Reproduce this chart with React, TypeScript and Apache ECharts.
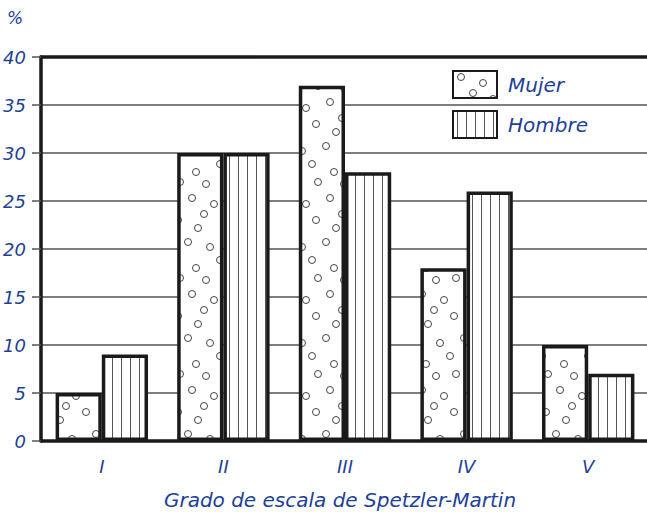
import React, { useEffect, useRef } from "react";
import * as echarts from "echarts";

const categories = ["I", "II", "III", "IV", "V"];
const mujer = [5, 30, 37, 18, 10];
const hombre = [9, 30, 28, 26, 7];
const seriesNames = ["Mujer", "Hombre"];
const axisTitle = "Grado de escala de Spetzler-Martin";

const BLUE = "#223f98";
const FONT = "'DejaVu Sans', sans-serif";

function circlePattern(): string {
  const c = document.createElement("canvas");
  c.width = 46;
  c.height = 96;
  const ctx = c.getContext("2d")!;
  ctx.fillStyle = "#ffffff";
  ctx.fillRect(0, 0, c.width, c.height);
  ctx.strokeStyle = "#444444";
  ctx.lineWidth = 1;
  const pts = [
    [8, 6], [30, 12], [40, 28], [14, 36], [4, 50], [26, 55], [36, 68], [12, 76], [22, 88], [42, 86], [20, 22],
  ];
  for (const [x, y] of pts) {
    ctx.beginPath();
    ctx.arc(x, y, 3.5, 0, Math.PI * 2);
    ctx.stroke();
  }
  return c.toDataURL();
}

function stripePattern(): string {
  const c = document.createElement("canvas");
  c.width = 9;
  c.height = 10;
  const ctx = c.getContext("2d")!;
  ctx.fillStyle = "#ffffff";
  ctx.fillRect(0, 0, 9, 10);
  ctx.fillStyle = "#555555";
  ctx.fillRect(4, 0, 1, 10);
  return c.toDataURL();
}

export default function App() {
  const ref = useRef<HTMLDivElement>(null);
  useEffect(() => {
    document.body.style.margin = "0";
    const chart = echarts.init(ref.current!, null, { renderer: "svg" });
    const circ = { image: circlePattern(), repeat: "repeat" };
    const stripe = { image: stripePattern(), repeat: "repeat" };
    const italic = { color: BLUE, fontFamily: FONT, fontStyle: "italic", fontSize: 18 };
    chart.setOption({
      animation: false,
      grid: { left: 41, right: -2, top: 57, bottom: 71, containLabel: false, outerBoundsMode: "none" },
      legend: {
        data: seriesNames,
        orient: "vertical",
        left: 447,
        top: 65,
        icon: "rect",
        itemWidth: 44,
        itemHeight: 27,
        itemGap: 11,
        textStyle: { ...italic, fontSize: 20, padding: [0, 0, 4, 6] },
        selectedMode: false,
      },
      graphic: [
        {
          type: "text",
          left: 7,
          top: 9,
          style: { text: "%", fill: BLUE, font: `italic 17px ${FONT}` },
        },
      ],
      xAxis: [
        {
          type: "category",
          data: categories,
          axisLine: { lineStyle: { color: "#1a1a1a", width: 3.5 } },
          axisTick: { show: false },
          axisLabel: { ...italic, margin: 16 },
          name: axisTitle,
          nameLocation: "middle",
          nameGap: 49,
          nameTextStyle: { ...italic, fontSize: 20, padding: [0, 10, 0, 0] },
        },
        {
          type: "category",
          data: categories,
          position: "top",
          axisLine: { lineStyle: { color: "#1a1a1a", width: 3.5 } },
          axisTick: { show: false },
          axisLabel: { show: false },
        },
      ],
      yAxis: {
        type: "value",
        min: 0,
        max: 40,
        interval: 5,
        axisLine: { show: true, lineStyle: { color: "#1a1a1a", width: 3.5 } },
        axisTick: { show: true, length: 9, lineStyle: { color: "#555", width: 1.5 } },
        axisLabel: { ...italic, margin: 15 },
        splitLine: { show: true, lineStyle: { color: "#555", width: 1.5 } },
      },
      series: [
        {
          name: seriesNames[0],
          type: "bar",
          data: mujer,
          barWidth: "38%",
          barGap: "0%",
          itemStyle: { color: circ, borderColor: "#1a1a1a", borderWidth: 3.5 },
        },
        {
          name: seriesNames[1],
          type: "bar",
          data: hombre,
          barWidth: "38%",
          barGap: "0%",
          itemStyle: { color: stripe, borderColor: "#1a1a1a", borderWidth: 3.5 },
        },
      ],
    });
    return () => chart.dispose();
  }, []);
  return <div ref={ref} style={{ width: 647, height: 512 }} />;
}
